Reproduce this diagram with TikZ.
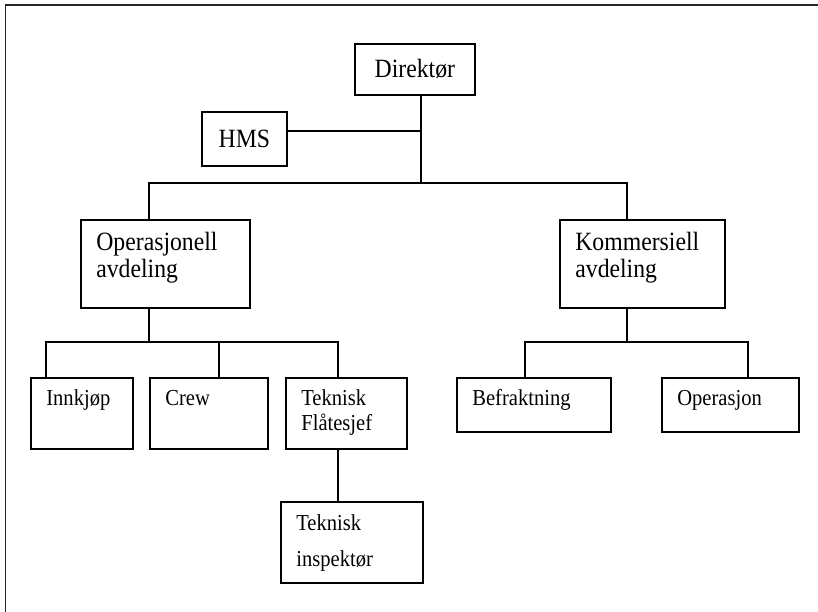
\documentclass[tikz,border=0pt]{standalone}
\usepackage{fontspec}
\setmainfont{Liberation Serif}[FakeStretch=0.9]
\usetikzlibrary{
  positioning % relative placement
}
\tikzset{
  unit/.style={
    draw,
    line width=1pt,
    inner sep=0pt,
    anchor=north west
  },
  head text/.style={
    anchor=base west,
    align=left,
    inner sep=0pt,
    font=\fontsize{15}{15.5}\selectfont
  },
  unit text/.style={
    anchor=base west,
    align=left,
    inner sep=0pt,
    font=\fontsize{13}{14}\selectfont
  },
  link/.style={
    line width=0.75pt
  },
  frame/.style={
    line width=1.1pt,
    color=black!85
  }
}

\begin{document}
\begin{tikzpicture}
    \useasboundingbox (0,0) rectangle (16.36,12.24);

    % ramme (bare topp- og venstrekant er synlig)
    \draw[frame] (0.11,0) -- (0.11,12.14) -- (16.36,12.14);

    % ledelse
    \node[unit, minimum width=2.4cm, minimum height=1.02cm,
          font=\fontsize{15}{15.5}\selectfont] (dir) at (7.08,11.38) {Direktør};
    \node[unit, minimum width=1.7cm, minimum height=1.08cm,
          font=\fontsize{15}{15.5}\selectfont] (hms) at (4.02,10.02) {HMS};

    \coordinate (trunk) at (8.42,8.58);
    \coordinate (hmsjoin) at (8.42,9.62);
    \draw[link] (dir.south -| trunk) -- (trunk);
    \draw[link] (hms.east |- hmsjoin) -- (hmsjoin);

    % avdelinger (base = siste linje)
    \node[unit, minimum width=3.38cm, minimum height=1.76cm] (ops) at (1.60,7.86) {};
    \node[unit, minimum width=3.30cm, minimum height=1.76cm] (kom) at (11.18,7.86) {};
    \node[head text] (ops-t) at ([shift={(0.32,-1.18)}]ops.north west) {Operasjonell\\avdeling};
    \node[head text] (kom-t) at ([shift={(0.32,-1.18)}]kom.north west) {Kommersiell\\avdeling};

    \coordinate (opsdrop) at (2.98,8.58);
    \coordinate (komdrop) at (12.54,8.58);
    \draw[link] (ops.north -| opsdrop) -- (opsdrop) -- (komdrop) -- (kom.north -| komdrop);

    % operasjonell avdeling
    \node[unit, minimum width=2.04cm, minimum height=1.42cm] (inn) at (0.60,4.70) {};
    \node[unit, minimum width=2.36cm, minimum height=1.42cm] (crew) at (2.98,4.70) {};
    \node[unit, minimum width=2.42cm, minimum height=1.42cm] (tfl) at (5.70,4.70) {};
    \node[unit text] (inn-t) at ([shift={(0.32,-0.58)}]inn.north west) {Innkjøp};
    \node[unit text] (crew-t) at ([shift={(0.32,-0.58)}]crew.north west) {Crew};
    \node[unit text] (tfl-t) at ([shift={(0.32,-1.07)}]tfl.north west) {Teknisk\\Flåtesjef};

    \coordinate (opsbus) at (2.98,5.40);
    \coordinate (innj) at (0.92,5.40);
    \coordinate (crewj) at (4.38,5.40);
    \coordinate (tflj) at (6.76,5.40);
    \draw[link] (ops.south -| opsbus) -- (opsbus);
    \draw[link] (inn.north -| innj) -- (innj) -- (tflj) -- (tfl.north -| tflj);
    \draw[link] (crew.north -| crewj) -- (crewj);

    % teknisk inspektør
    \node[unit, minimum width=2.84cm, minimum height=1.62cm] (tin) at (5.60,2.22) {};
    \node[unit text] (tin-t) at ([shift={(0.32,-1.31)}]tin.north west) {Teknisk\\[6.5pt]inspektør};
    \draw[link] (tfl.south -| tflj) -- (tin.north -| tflj);

    % kommersiell avdeling
    \node[unit, minimum width=3.08cm, minimum height=1.08cm] (bef) at (9.12,4.70) {};
    \node[unit, minimum width=2.74cm, minimum height=1.08cm] (opr) at (13.22,4.70) {};
    \node[unit text] (bef-t) at ([shift={(0.32,-0.58)}]bef.north west) {Befraktning};
    \node[unit text] (opr-t) at ([shift={(0.32,-0.58)}]opr.north west) {Operasjon};

    \coordinate (kombus) at (12.54,5.40);
    \coordinate (befj) at (10.50,5.40);
    \coordinate (oprj) at (14.96,5.40);
    \draw[link] (kom.south -| kombus) -- (kombus);
    \draw[link] (bef.north -| befj) -- (befj) -- (oprj) -- (opr.north -| oprj);

\end{tikzpicture}
\end{document}
